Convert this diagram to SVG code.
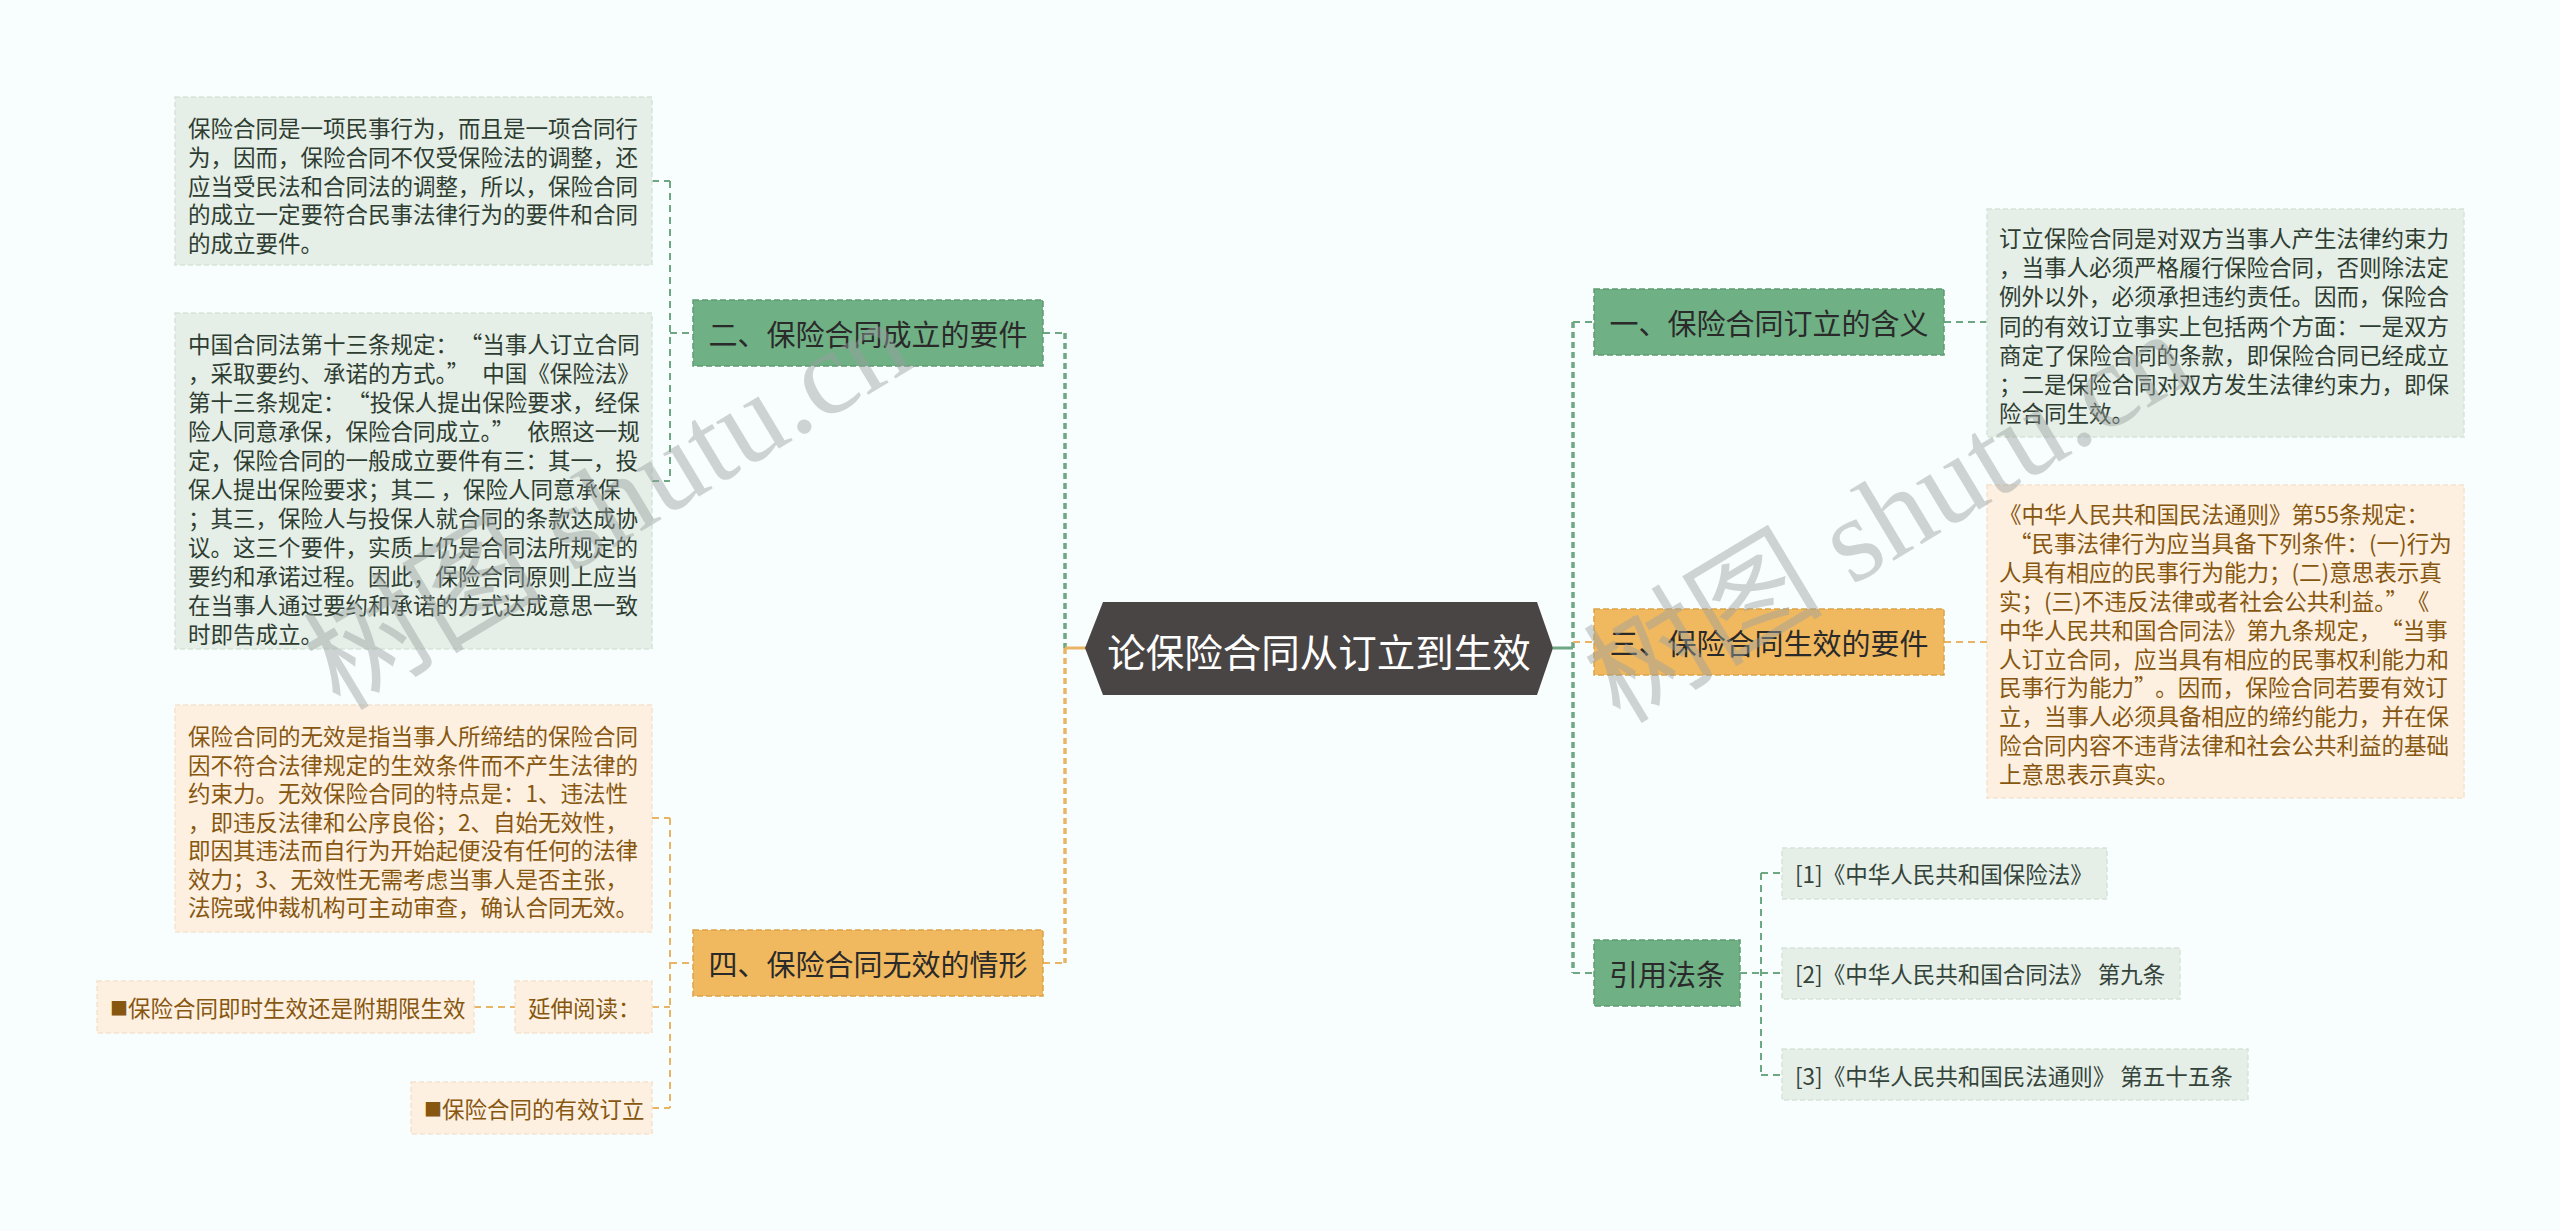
<svg xmlns="http://www.w3.org/2000/svg" width="2560" height="1231" viewBox="0 0 2560 1231">
<style>
.bg{fill:#f8fdfd}
.ng{fill:#70b085;stroke:#5e9c72;stroke-width:1.5;stroke-dasharray:6 3}
.no{fill:#f0b95f;stroke:#dca24a;stroke-width:1.5;stroke-dasharray:6 3}
.bgreen{fill:#e5eee7;stroke:#d6e3d9;stroke-width:1.5;stroke-dasharray:5 3}
.borange{fill:#fdf0e1;stroke:#f3e2cd;stroke-width:1.5;stroke-dasharray:5 3}
.nt{font-family:"Noto Sans CJK SC","Noto Sans",sans-serif;font-size:29px;fill:#2a2a2a;dominant-baseline:central}
.tg{font-family:"Noto Sans CJK SC","Noto Sans",sans-serif;font-size:22.5px;fill:#2e3d31;dominant-baseline:central}
.to{font-family:"Noto Sans CJK SC","Noto Sans",sans-serif;font-size:22.5px;fill:#875710;dominant-baseline:central}
.tr{font-family:"Noto Sans CJK SC","Noto Sans",sans-serif;font-size:22.5px;fill:#34443a;dominant-baseline:central}
.sq{font-size:18px}
.cg{fill:none;stroke:#6ea882;stroke-width:2;stroke-dasharray:7 5}
.co{fill:none;stroke:#e9b565;stroke-width:2;stroke-dasharray:7 5}
.cgt{fill:none;stroke:#6ea882;stroke-width:3.5;stroke-dasharray:6 4}
.cot{fill:none;stroke:#e9b565;stroke-width:3.5;stroke-dasharray:6 4}
.wm{font-family:"Liberation Serif","Noto Sans CJK SC",serif;font-size:120px;fill:#9aa0a0;fill-opacity:0.45}
</style>
<rect class="bg" x="0" y="0" width="2560" height="1231"/>

<g id="connectors">
  <path class="cgt" d="M1065 333 V648"/>
  <path class="cot" d="M1065 648 V963"/>
  <path class="cg" d="M1043 333 H1065"/>
  <path class="co" d="M1043 963 H1065"/>
  <path d="M1065 648 H1086" fill="none" stroke="#e9b565" stroke-width="3"/>
  <path d="M1553 648 H1573" fill="none" stroke="#6ea882" stroke-width="3"/>
  <path class="cgt" d="M1573 322 V973"/>
  <path class="cg" d="M1573 322 H1594"/>
  <path class="co" d="M1573 642 H1594"/>
  <path class="cg" d="M1573 973 H1594"/>
  <path class="cg" d="M670 181 V481 M652 181 H670 M652 481 H670 M670 333 H693"/>
  <path class="co" d="M670 818 V1108 M652 818 H670 M652 1007 H670 M652 1108 H670 M670 963 H693 M474 1007 H515"/>
  <path class="cg" d="M1944 322 H1987"/>
  <path class="co" d="M1944 642 H1987"/>
  <path class="cg" d="M1740 973 H1761 M1761 873 V1075 M1761 873 H1782 M1761 973 H1782 M1761 1075 H1782"/>
</g>

<g id="center">
  <polygon points="1085,648 1103,602 1537,602 1553,648 1537,695 1103,695" fill="#4a4545"/>
  <text x="1319" y="650" text-anchor="middle" font-family="Noto Sans CJK SC, Noto Sans, sans-serif" font-size="38.5" fill="#ffffff" dominant-baseline="central">论保险合同从订立到生效</text>
</g>

<g id="n2">
  <rect class="ng" x="693" y="300" width="350" height="66"/>
  <text class="nt" x="868" y="333" text-anchor="middle">二、保险合同成立的要件</text>
</g>
<g id="n4">
  <rect class="no" x="693" y="930" width="350" height="66"/>
  <text class="nt" x="868" y="963" text-anchor="middle">四、保险合同无效的情形</text>
</g>
<g id="n1">
  <rect class="ng" x="1594" y="289" width="350" height="66"/>
  <text class="nt" x="1769" y="322" text-anchor="middle">一、保险合同订立的含义</text>
</g>
<g id="n3">
  <rect class="no" x="1594" y="609" width="350" height="66"/>
  <text class="nt" x="1769" y="642" text-anchor="middle">三、保险合同生效的要件</text>
</g>
<g id="nref">
  <rect class="ng" x="1594" y="940" width="146" height="66"/>
  <text class="nt" x="1667" y="973" text-anchor="middle">引用法条</text>
</g>

<g id="boxA">
  <rect class="bgreen" x="175" y="97" width="477" height="168"/>
  <text class="tg" x="188" y="127">保险合同是一项民事行为，而且是一项合同行</text>
  <text class="tg" x="188" y="155.75">为，因而，保险合同不仅受保险法的调整，还</text>
  <text class="tg" x="188" y="184.5">应当受民法和合同法的调整，所以，保险合同</text>
  <text class="tg" x="188" y="213.25">的成立一定要符合民事法律行为的要件和合同</text>
  <text class="tg" x="188" y="242">的成立要件。</text>
</g>

<g id="boxB">
  <rect class="bgreen" x="175" y="313" width="477" height="336"/>
  <text class="tg" x="188" y="343">中国合同法第十三条规定：<tspan dx="13">“</tspan>当事人订立合同</text>
  <text class="tg" x="188" y="372">，采取要约、承诺的方式。”<tspan dx="13">中国《保险法》</tspan></text>
  <text class="tg" x="188" y="401">第十三条规定：<tspan dx="13">“</tspan>投保人提出保险要求，经保</text>
  <text class="tg" x="188" y="430">险人同意承保，保险合同成立。”<tspan dx="13">依照这一规</tspan></text>
  <text class="tg" x="188" y="459">定，保险合同的一般成立要件有三：其一，投</text>
  <text class="tg" x="188" y="488">保人提出保险要求；其二 ，保险人同意承保</text>
  <text class="tg" x="188" y="517">；其三，保险人与投保人就合同的条款达成协</text>
  <text class="tg" x="188" y="546">议。这三个要件，实质上仍是合同法所规定的</text>
  <text class="tg" x="188" y="575">要约和承诺过程。因此，保险合同原则上应当</text>
  <text class="tg" x="188" y="604">在当事人通过要约和承诺的方式达成意思一致</text>
  <text class="tg" x="188" y="633">时即告成立。</text>
</g>

<g id="boxC">
  <rect class="borange" x="175" y="705" width="477" height="227"/>
  <text class="to" x="188" y="735">保险合同的无效是指当事人所缔结的保险合同</text>
  <text class="to" x="188" y="763.5">因不符合法律规定的生效条件而不产生法律的</text>
  <text class="to" x="188" y="792">约束力。无效保险合同的特点是：1、违法性</text>
  <text class="to" x="188" y="820.5">，即违反法律和公序良俗；2、自始无效性，</text>
  <text class="to" x="188" y="849">即因其违法而自行为开始起便没有任何的法律</text>
  <text class="to" x="188" y="877.5">效力；3、无效性无需考虑当事人是否主张，</text>
  <text class="to" x="188" y="906">法院或仲裁机构可主动审查，确认合同无效。</text>
</g>

<g id="boxD">
  <rect class="borange" x="97" y="981" width="377" height="52"/>
  <text class="to" x="110" y="1007"><tspan class="sq">■</tspan>保险合同即时生效还是附期限生效</text>
</g>
<g id="boxE">
  <rect class="borange" x="515" y="981" width="137" height="52"/>
  <text class="to" x="528" y="1007">延伸阅读：</text>
</g>
<g id="boxF">
  <rect class="borange" x="411" y="1082" width="241" height="52"/>
  <text class="to" x="424" y="1108"><tspan class="sq">■</tspan>保险合同的有效订立</text>
</g>

<g id="boxG">
  <rect class="bgreen" x="1987" y="209" width="477" height="228"/>
  <text class="tg" x="1999" y="237">订立保险合同是对双方当事人产生法律约束力</text>
  <text class="tg" x="1999" y="266.2">，当事人必须严格履行保险合同，否则除法定</text>
  <text class="tg" x="1999" y="295.4">例外以外，必须承担违约责任。因而，保险合</text>
  <text class="tg" x="1999" y="324.6">同的有效订立事实上包括两个方面：一是双方</text>
  <text class="tg" x="1999" y="353.8">商定了保险合同的条款，即保险合同已经成立</text>
  <text class="tg" x="1999" y="383">；二是保险合同对双方发生法律约束力，即保</text>
  <text class="tg" x="1999" y="412.2">险合同生效。</text>
</g>

<g id="boxH">
  <rect class="borange" x="1987" y="485" width="477" height="313"/>
  <text class="to" x="1999" y="513">《中华人民共和国民法通则》第55条规定：</text>
  <text class="to" x="1999" y="541.9"><tspan dx="10">“</tspan>民事法律行为应当具备下列条件：(一)行为</text>
  <text class="to" x="1999" y="570.8">人具有相应的民事行为能力；(二)意思表示真</text>
  <text class="to" x="1999" y="599.7">实；(三)不违反法律或者社会公共利益。”<tspan dx="10">《</tspan></text>
  <text class="to" x="1999" y="628.6">中华人民共和国合同法》第九条规定，<tspan dx="10">“</tspan>当事</text>
  <text class="to" x="1999" y="657.5">人订立合同，应当具有相应的民事权利能力和</text>
  <text class="to" x="1999" y="686.4">民事行为能力”<tspan dx="10">。因而，保险合同若要有效订</tspan></text>
  <text class="to" x="1999" y="715.3">立，当事人必须具备相应的缔约能力，并在保</text>
  <text class="to" x="1999" y="744.2">险合同内容不违背法律和社会公共利益的基础</text>
  <text class="to" x="1999" y="773.1">上意思表示真实。</text>
</g>

<g id="ref1">
  <rect class="bgreen" x="1782" y="848" width="325" height="51"/>
  <text class="tr" x="1795" y="873">[1]《中华人民共和国保险法》</text>
</g>
<g id="ref2">
  <rect class="bgreen" x="1782" y="948" width="398" height="51"/>
  <text class="tr" x="1795" y="973">[2]《中华人民共和国合同法》 第九条</text>
</g>
<g id="ref3">
  <rect class="bgreen" x="1782" y="1049" width="466" height="51"/>
  <text class="tr" x="1795" y="1075">[3]《中华人民共和国民法通则》 第五十五条</text>
</g>

<g id="watermark">
  <text class="wm" transform="translate(340,712) rotate(-31)">树图 shutu.cn</text>
  <text class="wm" transform="translate(1620,725) rotate(-31)">树图 shutu.cn</text>
</g>
</svg>
